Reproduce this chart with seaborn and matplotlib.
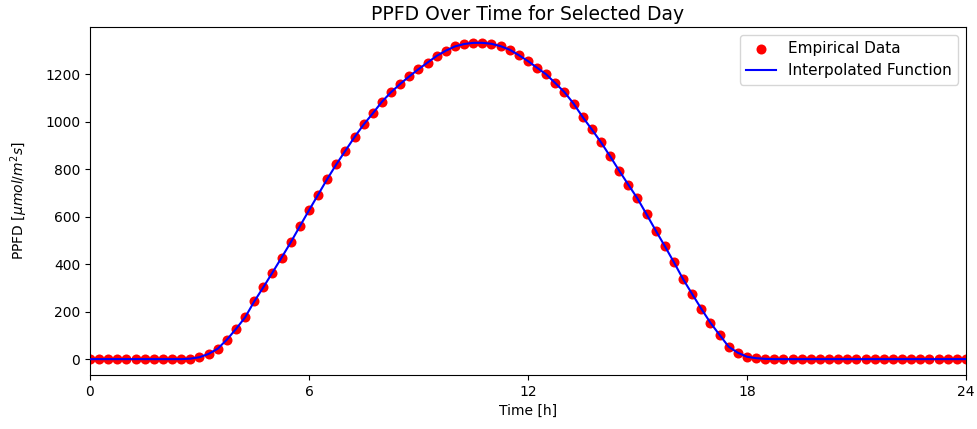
import numpy as np
import pandas as pd
import matplotlib
matplotlib.use("Agg")
import matplotlib.pyplot as plt
import seaborn as sns

# Time in hours (every 15 minutes)
hours = [i * 0.25 for i in range(97)]

# PPFD values
ppfd = [
    0, 0, 0, 0, 0, 0, 0, 0, 0, 0, 0, 2,          # 0.00 - 2.75
    8, 22, 44, 82,                                # 3.00 - 3.75
    127, 176, 243, 303,                           # 4.00 - 4.75
    365, 428, 492, 560,                           # 5.00 - 5.75
    627, 693, 759, 821,                           # 6.00 - 6.75
    879, 936, 989, 1036,                          # 7.00 - 7.75
    1085, 1125, 1160, 1192,                       # 8.00 - 8.75
    1222, 1250, 1278, 1300,                       # 9.00 - 9.75
    1318, 1328, 1333, 1333,                       # 10.00 - 10.75
    1329, 1319, 1304, 1281,                       # 11.00 - 11.75
    1256, 1228, 1200, 1163,                       # 12.00 - 12.75
    1125, 1077, 1020, 968,                        # 13.00 - 13.75
    914, 855, 794, 735,                           # 14.00 - 14.75
    677, 610, 542, 476,                           # 15.00 - 15.75
    408, 337, 274, 212,                           # 16.00 - 16.75
    153, 102, 52, 27,                             # 17.00 - 17.75
    10, 4, 1, 0,                                  # 18.00 - 18.75
    0, 0, 0, 0, 0, 0, 0, 0, 0, 0, 0, 0, 0, 0, 0, 0, 0, 0, 0, 0, 0,  # 19.00 - 24.00
]

x_ticks = [0, 6, 12, 18, 24]

df = pd.DataFrame({"Time": hours, "PPFD": ppfd})

fig, ax = plt.subplots(figsize=(9.78, 4.29), dpi=100)
fig.subplots_adjust(left=0.092, right=0.9877, top=0.937, bottom=0.126)

sns.scatterplot(data=df, x="Time", y="PPFD", color="red", s=52, linewidth=0,
                label="Empirical Data", ax=ax, zorder=2)
sns.lineplot(data=df, x="Time", y="PPFD", color="blue", linewidth=1.5,
             label="Interpolated Function", ax=ax, zorder=3)

ax.set_xlim(0, 24)
ax.set_xticks(x_ticks)
ax.set_title("PPFD Over Time for Selected Day", fontsize=13.5, pad=5)
ax.set_xlabel("Time [h]", fontsize=10)
ax.set_ylabel(r"PPFD [$\mu mol/m^2 s$]", fontsize=10, labelpad=11)
ax.legend(loc="upper right", fontsize=11)

fig.savefig("out.png", dpi=100)
